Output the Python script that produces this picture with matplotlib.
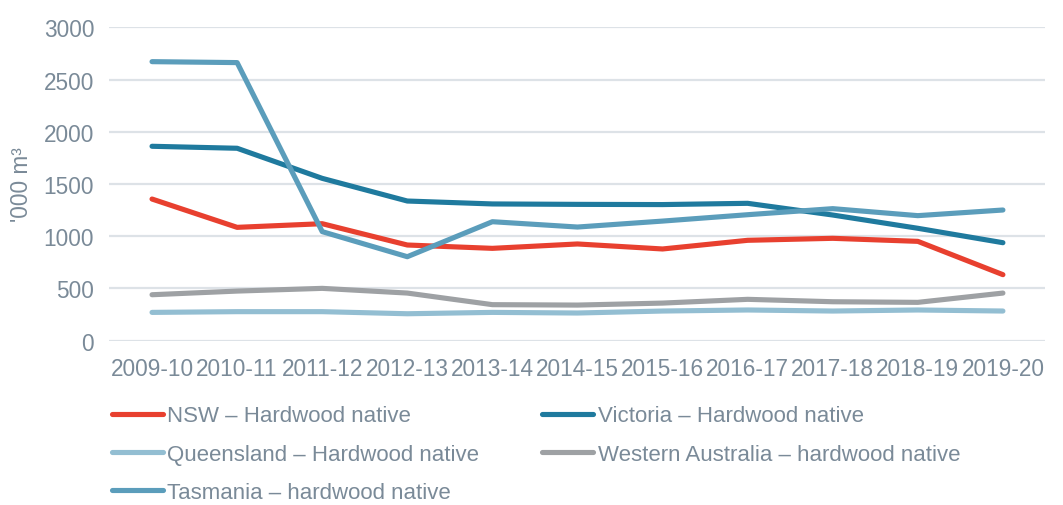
import matplotlib
matplotlib.use("Agg")
import matplotlib.pyplot as plt

years = ["2009-10", "2010-11", "2011-12", "2012-13", "2013-14", "2014-15",
         "2015-16", "2016-17", "2017-18", "2018-19", "2019-20"]

nsw = [1356, 1085, 1120, 916, 884, 926, 878, 961, 980, 951, 632]
victoria = [1861, 1842, 1554, 1337, 1309, 1305, 1303, 1315, 1203, 1076, 938]
queensland = [271, 278, 278, 258, 271, 265, 284, 294, 284, 294, 284]
western_australia = [440, 475, 501, 456, 345, 341, 360, 396, 373, 367, 456]
tasmania = [2671, 2662, 1044, 804, 1139, 1088, 1145, 1206, 1264, 1197, 1251]

labels = ["NSW – Hardwood native", "Victoria – Hardwood native",
          "Queensland – Hardwood native", "Western Australia – hardwood native",
          "Tasmania – hardwood native"]
colors = ["#E8402F", "#1F7A9E", "#93BED2", "#9EA1A4", "#5B9DBB"]

text_color = "#7A8A98"
plt.rcParams["font.family"] = ["Liberation Sans", "DejaVu Sans"]

fig = plt.figure(figsize=(10.63, 5.06), dpi=100)
ax = fig.add_axes([0.103, 0.3247, 0.8805, 0.6194])

x = list(range(len(years)))
series = [nsw, victoria, queensland, western_australia, tasmania]
lines = []
for vals, lab, col in zip(series, labels, colors):
    ln, = ax.plot(x, vals, color=col, lw=3.7, label=lab,
                  solid_capstyle="round", solid_joinstyle="round")
    lines.append(ln)

ax.set_xlim(-0.5, len(years) - 0.5)
ax.set_ylim(0, 3000)
ax.set_yticks(range(0, 3001, 500))
ax.set_xticks(x)
ax.set_xticklabels(years)
ax.grid(axis="y", color="#DDE2E7", lw=1.6)
ax.set_axisbelow(True)
for s in ax.spines.values():
    s.set_visible(False)
ax.tick_params(axis="both", length=0, labelsize=16.3, colors=text_color)
ax.tick_params(axis="y", pad=11)
ax.tick_params(axis="x", pad=12)
ax.set_ylabel("'000 m³", fontsize=16.3, color=text_color, labelpad=8)

# legend fills column-first, so reorder to match the row layout
order = [0, 2, 4, 1, 3]
fig.legend([lines[i] for i in order], [labels[i] for i in order],
           loc="upper left", bbox_to_anchor=(0.105, 0.197), ncol=2,
           frameon=False, fontsize=16, labelcolor=text_color,
           handlelength=2.3, handletextpad=0.2, columnspacing=2.83,
           labelspacing=0.78, borderpad=0, borderaxespad=0)

fig.savefig("out.png", dpi=100)
